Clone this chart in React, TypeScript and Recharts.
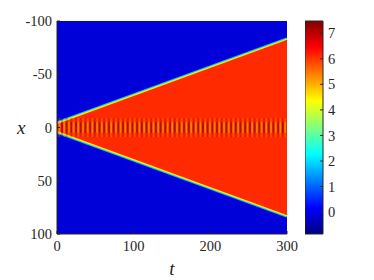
import {
  Area,
  Bar,
  BarChart,
  CartesianGrid,
  ComposedChart,
  XAxis,
  YAxis,
} from "recharts";

// front positions of the spreading state (x vs t)
const times = [0, 300];
const frontUpper = [-4, -83];
const frontLower = [4, 83];
// half-width of the oscillating core around x = 0
const coreOuter = [9, 9];
const coreInner = [5, 5];

const tTicks = [0, 100, 200, 300];
const xTicks = [-100, -50, 0, 50, 100];
const cbarTicks = [0, 1, 2, 3, 4, 5, 6, 7];
const cbarRange = [-0.86, 7.48];

const data = times.map((t, i) => ({
  t,
  front: [frontUpper[i], frontLower[i]],
  outer: [-coreOuter[i], coreOuter[i]],
  inner: [-coreInner[i], coreInner[i]],
}));

const cbarData = [{ name: "u", range: cbarRange }];

const ink = "#262626";
const serif = "Liberation Serif";
const tickFont = { fill: ink, fontSize: 14.5, fontFamily: serif };
const labelFont = {
  fill: ink,
  fontSize: 19,
  fontFamily: serif,
  fontStyle: "italic",
};

function Heatmap() {
  return (
    <ComposedChart
      width={374}
      height={280}
      data={data}
      margin={{ top: 21, right: 87, bottom: 0, left: 0 }}
    >
      <defs>
        <pattern id="breather" patternUnits="userSpaceOnUse" width={4.7} height={10}>
          <rect x={0} y={0} width={1.7} height={10} fill="#a00000" />
          <rect x={2.35} y={0} width={1.5} height={10} fill="#ffb000" />
        </pattern>
      </defs>

      <CartesianGrid horizontal={false} vertical={false} fill="#0000d8" />

      <XAxis
        dataKey="t"
        type="number"
        domain={[0, 300]}
        ticks={tTicks}
        height={46}
        stroke={ink}
        tickSize={-3}
        tickMargin={10}
        tick={tickFont}
        label={{ value: "t", position: "insideBottom", offset: 5, style: labelFont }}
      />
      <XAxis
        xAxisId="top"
        orientation="top"
        type="number"
        domain={[0, 300]}
        ticks={tTicks}
        height={0}
        stroke={ink}
        tickSize={-3}
        tickFormatter={() => ""}
      />
      <YAxis
        type="number"
        domain={[-100, 100]}
        reversed
        ticks={xTicks}
        width={57}
        stroke={ink}
        tickSize={-3}
        tickMargin={8}
        tick={tickFont}
        label={{ value: "x", position: "insideLeft", offset: 17, style: labelFont }}
      />
      <YAxis
        yAxisId="right"
        orientation="right"
        type="number"
        domain={[-100, 100]}
        reversed
        ticks={xTicks}
        width={0}
        stroke={ink}
        tickSize={-3}
        tickFormatter={() => ""}
      />

      <Area
        dataKey="front"
        type="linear"
        fill="none"
        stroke="#00c8ff"
        strokeWidth={3.6}
        isAnimationActive={false}
      />
      <Area
        dataKey="front"
        type="linear"
        fill="#ff2a00"
        fillOpacity={1}
        stroke="#f0f000"
        strokeWidth={1.4}
        isAnimationActive={false}
      />
      <Area
        dataKey="outer"
        type="linear"
        fill="url(#breather)"
        fillOpacity={0.3}
        stroke="none"
        isAnimationActive={false}
      />
      <Area
        dataKey="inner"
        type="linear"
        fill="url(#breather)"
        fillOpacity={0.65}
        stroke="none"
        isAnimationActive={false}
      />
    </ComposedChart>
  );
}

function Colorbar() {
  return (
    <BarChart
      width={69}
      height={280}
      data={cbarData}
      margin={{ top: 21, right: 0, bottom: 46, left: 0 }}
      barCategoryGap={0}
    >
      <defs>
        <linearGradient id="jet" x1="0" y1="1" x2="0" y2="0">
          <stop offset="0" stopColor="#000080" />
          <stop offset="0.125" stopColor="#0000ff" />
          <stop offset="0.375" stopColor="#00ffff" />
          <stop offset="0.625" stopColor="#ffff00" />
          <stop offset="0.875" stopColor="#ff0000" />
          <stop offset="1" stopColor="#800000" />
        </linearGradient>
      </defs>
      <XAxis dataKey="name" hide />
      <YAxis
        orientation="right"
        type="number"
        domain={cbarRange}
        ticks={cbarTicks}
        width={51}
        axisLine={false}
        stroke={ink}
        tickSize={-3}
        tickMargin={8}
        tick={tickFont}
      />
      <Bar
        dataKey="range"
        fill="url(#jet)"
        stroke={ink}
        strokeWidth={1}
        isAnimationActive={false}
      />
    </BarChart>
  );
}

export default function App() {
  return (
    <div style={{ position: "absolute", left: 0, top: 0, width: 374, height: 280, background: "#fff" }}>
      <div style={{ position: "absolute", left: 0, top: 0 }}>
        <Heatmap />
      </div>
      <div style={{ position: "absolute", left: 305, top: 0 }}>
        <Colorbar />
      </div>
    </div>
  );
}
